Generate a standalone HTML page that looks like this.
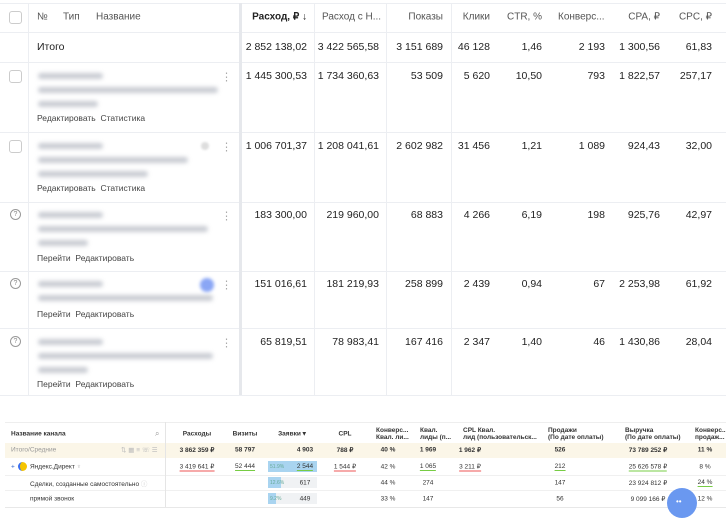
<!DOCTYPE html>
<html><head><meta charset="utf-8"><style>
body{margin:0;width:726px;height:515px;overflow:hidden;background:#fff;font-family:"Liberation Sans",sans-serif;color:#222;position:relative}
.a{position:absolute;white-space:nowrap}
.t{font-size:10.5px;transform:translateY(-50%)}
.r{text-align:right}
.h{color:#555;font-size:10px}
.hl{position:absolute;left:0;width:726px;height:1px;background:#eceef2}
.vl{position:absolute;width:1px;background:#eceef2}
.cb{position:absolute;width:11px;height:11px;border:1px solid #ccc;border-radius:3px}
.q{position:absolute;width:9px;height:9px;border:1px solid #999;border-radius:50%;font-size:7px;color:#888;text-align:center;line-height:9px}
.bl{position:absolute;height:6px;background:#c9ccd3;filter:blur(2px);border-radius:3px}
.lk{position:absolute;font-size:8.5px;color:#444;transform:translateY(-50%)}
.kb{position:absolute;font-size:11px;color:#aaa;transform:translateY(-50%)}
.s{font-size:6.5px;transform:translateY(-50%);color:#333}
.sb{font-weight:bold}
.ul{border-bottom:1px solid}
</style></head><body>
<div>
<div class="hl" style="top:3px"></div>
<div class="hl" style="top:32px"></div>
<div class="hl" style="top:62px"></div>
<div class="hl" style="top:132px"></div>
<div class="hl" style="top:202px"></div>
<div class="hl" style="top:271px"></div>
<div class="hl" style="top:328px"></div>
<div class="hl" style="top:395px"></div>
<div class="vl" style="left:28px;top:3px;height:392px"></div>
<div class="vl" style="left:239px;top:3px;height:392px;width:3px;background:#e6e8ec"></div>
<div class="vl" style="left:314px;top:3px;height:392px"></div>
<div class="vl" style="left:386px;top:3px;height:392px"></div>
<div class="vl" style="left:451px;top:3px;height:392px"></div>

<div class="cb" style="left:9px;top:11px"></div>
<span class="a t h" style="left:37px;top:17px">№</span>
<span class="a t h" style="left:63px;top:17px">Тип</span>
<span class="a t h" style="left:96px;top:17px">Название</span>
<span class="a t r" style="right:419px;top:17px;font-weight:bold;font-size:10px">Расход, ₽ ↓</span>
<span class="a t h" style="left:322px;top:17px">Расход с Н...</span>
<span class="a t h r" style="right:283px;top:17px">Показы</span>
<span class="a t h r" style="right:236px;top:17px">Клики</span>
<span class="a t h r" style="right:184px;top:17px">CTR, %</span>
<span class="a t h" style="left:558px;top:17px">Конверс...</span>
<span class="a t h r" style="right:66px;top:17px">CPA, ₽</span>
<span class="a t h r" style="right:14px;top:17px">CPC, ₽</span>

<span class="a t" style="left:37px;top:47px">Итого</span>
<div id="vals"></div>

<div class="cb" style="left:9px;top:70px"></div>
<div class="cb" style="left:9px;top:140px"></div>
<div class="q" style="left:10px;top:209px">?</div>
<div class="q" style="left:10px;top:278px">?</div>
<div class="q" style="left:10px;top:336px">?</div>

<div class="bl" style="left:38px;top:73px;width:65px"></div>
<div class="bl" style="left:38px;top:87px;width:180px"></div>
<div class="bl" style="left:38px;top:101px;width:60px"></div>
<div class="bl" style="left:38px;top:143px;width:65px"></div>
<div class="bl" style="left:38px;top:157px;width:150px"></div>
<div class="bl" style="left:38px;top:171px;width:110px"></div>
<div class="bl" style="left:38px;top:212px;width:65px"></div>
<div class="bl" style="left:38px;top:226px;width:170px"></div>
<div class="bl" style="left:38px;top:240px;width:50px"></div>
<div class="bl" style="left:38px;top:281px;width:65px"></div>
<div class="bl" style="left:38px;top:295px;width:175px"></div>
<div class="bl" style="left:38px;top:339px;width:65px"></div>
<div class="bl" style="left:38px;top:353px;width:175px"></div>
<div class="bl" style="left:38px;top:367px;width:50px"></div>
<div class="a" style="left:201px;top:142px;width:8px;height:8px;border-radius:50%;background:#ddd;filter:blur(1px)"></div>
<div class="a" style="left:200px;top:278px;width:14px;height:14px;border-radius:50%;background:#8aa6f5;filter:blur(1.5px)"></div>

<span class="lk" style="left:37px;top:118px">Редактировать&nbsp; Статистика</span>
<span class="lk" style="left:37px;top:188px">Редактировать&nbsp; Статистика</span>
<span class="lk" style="left:37px;top:258px">Перейти&nbsp; Редактировать</span>
<span class="lk" style="left:37px;top:314px">Перейти&nbsp; Редактировать</span>
<span class="lk" style="left:37px;top:384px">Перейти&nbsp; Редактировать</span>
<span class="kb" style="left:221px;top:77px">⋮</span>
<span class="kb" style="left:221px;top:147px">⋮</span>
<span class="kb" style="left:221px;top:216px">⋮</span>
<span class="kb" style="left:221px;top:285px">⋮</span>
<span class="kb" style="left:221px;top:343px">⋮</span>
</div>

<div>
<div class="hl" style="top:422px;left:5px;width:721px;background:#eee"></div>
<div class="a" style="left:5px;top:443px;width:721px;height:15px;background:#fbf6e8"></div>
<div class="hl" style="top:475px;left:5px;width:721px;background:#f0f0f0"></div>
<div class="hl" style="top:490px;left:5px;width:721px;background:#f0f0f0"></div>
<div class="hl" style="top:507px;left:5px;width:721px;background:#e8e8e8"></div>
<div class="vl" style="left:165px;top:422px;height:85px;background:#e5e5e5"></div>
<span class="a s sb" style="left:11px;top:434px">Название канала</span>
<span class="a s" style="left:155px;top:434px;color:#999;font-size:8px">⌕</span>
<span class="a s" style="left:11px;top:450px;color:#999">Итого/Средние</span>
<span class="a s" style="left:121px;top:450px;color:#bbb">⇅ ▦ ≡ ☏ ☰</span>
<span class="a s" style="left:11px;top:467px;color:#36c" >+</span>
<div class="a" style="left:18px;top:462px;width:9px;height:9px;border-radius:50%;background:#f5c400;border-left:2px solid #3b6ff0;box-sizing:border-box"></div>
<span class="a s" style="left:30px;top:467px">Яндекс.Директ <span style="color:#bbb">♆</span></span>
<span class="a s" style="left:30px;top:483px">Сделки, созданные самостоятельно <span style="color:#ccc">ⓘ</span></span>
<span class="a s" style="left:30px;top:499px">прямой звонок</span>
<div class="a" style="left:268px;top:461px;width:49px;height:11px;background:#eef1f4"></div>
<div class="a" style="left:268px;top:461px;width:49px;height:11px;background:#a9d4f0"></div>
<div class="a" style="left:268px;top:477px;width:49px;height:11px;background:#f0f2f4"></div>
<div class="a" style="left:268px;top:477px;width:13px;height:11px;background:#a9d4f0"></div>
<div class="a" style="left:268px;top:493px;width:49px;height:11px;background:#f0f2f4"></div>
<div class="a" style="left:268px;top:493px;width:8px;height:11px;background:#a9d4f0"></div>
<span class="a s" style="left:270px;top:467px;font-size:5px;color:#6a9" >51.9%</span>
<span class="a s" style="left:270px;top:483px;font-size:5px;color:#6a9" >12.6%</span>
<span class="a s" style="left:270px;top:499px;font-size:5px;color:#6a9" >9.2%</span>
<div id="bvals"></div>
<div class="a" style="left:667px;top:488px;width:30px;height:30px;border-radius:50%;background:#6a98f0"><span style="position:absolute;left:9px;top:9px;color:#fff;font-size:8px">••</span></div>
</div>

<script>
const topCols=[419,347,283,236,184,121,66,14];
const rowY=[47,76,146,215,284,342];
const rows=[
["2 852 138,02","3 422 565,58","3 151 689","46 128","1,46","2 193","1 300,56","61,83"],
["1 445 300,53","1 734 360,63","53 509","5 620","10,50","793","1 822,57","257,17"],
["1 006 701,37","1 208 041,61","2 602 982","31 456","1,21","1 089","924,43","32,00"],
["183 300,00","219 960,00","68 883","4 266","6,19","198","925,76","42,97"],
["151 016,61","181 219,93","258 899","2 439","0,94","67","2 253,98","61,92"],
["65 819,51","78 983,41","167 416","2 347","1,40","46","1 430,86","28,04"]];
const V=document.getElementById('vals');
rows.forEach((r,i)=>r.forEach((v,j)=>{const s=document.createElement('span');s.className='a t r';s.style.right=topCols[j]+'px';s.style.top=rowY[i]+'px';s.textContent=v;


V.appendChild(s);}));
const bHead=["Расходы","Визиты","Заявки ▾","CPL","Конверс...\nКвал. ли...","Квал.\nлиды (п...","CPL Квал.\nлид (пользовательск...","Продажи\n(По дате оплаты)","Выручка\n(По дате оплаты)","Конверс...\nпродаж..."];
const bX=[197,245,292,345,376,420,463,548,625,695];
const bAlign=['c','c','c','c','l','l','l','l','l','l'];
const bY=[450,467,483,499];
const bRows=[
["3 862 359 ₽","58 797","4 903","788 ₽","40 %","1 969","1 962 ₽","526","73 789 252 ₽","11 %"],
["3 419 641 ₽","52 444","2 544","1 544 ₽","42 %","1 065","3 211 ₽","212","25 626 578 ₽","8 %"],
["","","617","","44 %","274","","147","23 924 812 ₽","24 %"],
["","","449","","33 %","147","","56","9 099 166 ₽","12 %"]];
const valX=[197,245,305,345,388,428,470,560,648,705];
const B=document.getElementById('bvals');
bHead.forEach((h,j)=>{const s=document.createElement('span');s.className='a s sb';s.style.whiteSpace='pre';s.style.lineHeight='7px';s.style.top='434px';
if(bAlign[j]=='c'){s.style.left=bX[j]+'px';s.style.transform='translate(-50%,-50%)';}else s.style.left=bX[j]+'px';
s.textContent=h;


B.appendChild(s);});
const ulc=[[1,0,'#e55'],[1,1,'#7c4'],[1,3,'#e55'],[1,5,'#7c4'],[1,6,'#e55'],[1,7,'#7c4'],[1,8,'#7c4'],[2,9,'#7c4'],[1,2,'#7c4']];
bRows.forEach((r,i)=>r.forEach((v,j)=>{if(!v)return;const s=document.createElement('span');s.className='a s'+(i==0?' sb':'');s.style.left=valX[j]+'px';s.style.top=bY[i]+'px';s.style.transform='translate(-50%,-50%)';s.textContent=v;
const u=ulc.find(x=>x[0]==i&&x[1]==j);if(u){s.style.borderBottom='1px solid '+u[2];}


B.appendChild(s);}));
</script>
</body></html>
